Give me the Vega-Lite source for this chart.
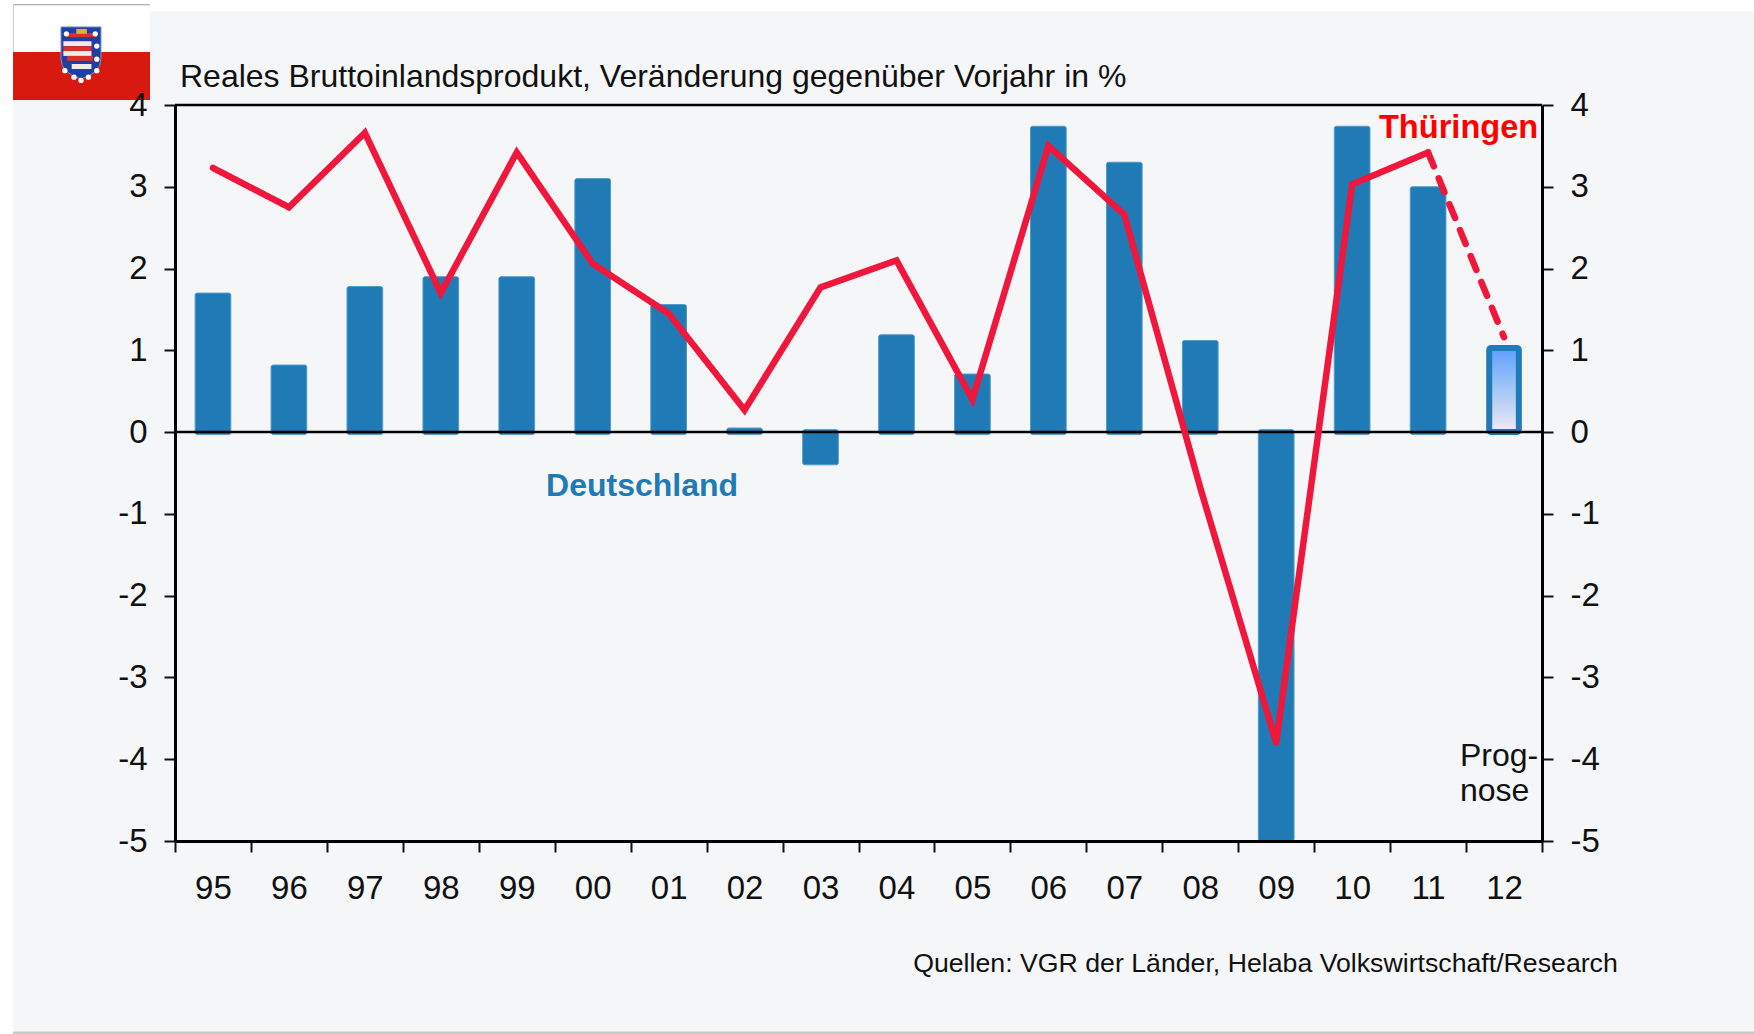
{"$schema":"https://vega.github.io/schema/vega-lite/v6.json","width":1367,"height":736,"autosize":"none","padding":{"left":175,"top":105,"right":212,"bottom":193},"background":"#ffffff",
"config":{"view":{"stroke":null},"font":"Liberation Sans"},
"datasets":{
"de":[{"jahr":"95","wert":1.7},{"jahr":"96","wert":0.82},{"jahr":"97","wert":1.78},{"jahr":"98","wert":1.9},{"jahr":"99","wert":1.9},{"jahr":"00","wert":3.1},{"jahr":"01","wert":1.56},{"jahr":"02","wert":0.05},{"jahr":"03","wert":-0.4},{"jahr":"04","wert":1.19},{"jahr":"05","wert":0.71},{"jahr":"06","wert":3.74},{"jahr":"07","wert":3.3},{"jahr":"08","wert":1.12},{"jahr":"09","wert":-5.0},{"jahr":"10","wert":3.74},{"jahr":"11","wert":3.0},{"jahr":"12","wert":1.03,"prognose":true}],
"th":[{"jahr":"95","wert":3.23,"abschnitt":"Ist"},{"jahr":"96","wert":2.75,"abschnitt":"Ist"},{"jahr":"97","wert":3.66,"abschnitt":"Ist"},{"jahr":"98","wert":1.7,"abschnitt":"Ist"},{"jahr":"99","wert":3.42,"abschnitt":"Ist"},{"jahr":"00","wert":2.06,"abschnitt":"Ist"},{"jahr":"01","wert":1.45,"abschnitt":"Ist"},{"jahr":"02","wert":0.27,"abschnitt":"Ist"},{"jahr":"03","wert":1.77,"abschnitt":"Ist"},{"jahr":"04","wert":2.1,"abschnitt":"Ist"},{"jahr":"05","wert":0.4,"abschnitt":"Ist"},{"jahr":"06","wert":3.5,"abschnitt":"Ist"},{"jahr":"07","wert":2.66,"abschnitt":"Ist"},{"jahr":"08","wert":-0.68,"abschnitt":"Ist"},{"jahr":"09","wert":-3.8,"abschnitt":"Ist"},{"jahr":"10","wert":3.03,"abschnitt":"Ist"},{"jahr":"11","wert":3.42,"abschnitt":"Ist"},{"jahr":"11","wert":3.42,"abschnitt":"Prognose"},{"jahr":"12","wert":1.16,"abschnitt":"Prognose"}]
},
"layer":[
{"data":{"values":[{"a":-2.133,"b":21,"c":5.15,"d":-7.33}]},"mark":{"type":"rect","fill":"#f5f6f8"},
 "encoding":{"x":{"field":"a","type":"quantitative","scale":{"domain":[0,18]},"axis":null},"x2":{"field":"b"},"y":{"field":"c","type":"quantitative","scale":{"domain":[-5,4],"nice":false,"zero":false},"axis":null},"y2":{"field":"d"}}},
{"data":{"values":[{"a":-2.133,"b":-0.329,"c":5.224,"d":4.649,"f":"#ffffff"},{"a":-2.133,"b":-0.329,"c":4.649,"d":4.062,"f":"#d8190f"},{"a":-2.133,"b":-0.329,"c":5.235,"d":5.22,"f":"#b0b0b0"},{"a":-2.133,"b":-2.12,"c":5.235,"d":4.649,"f":"#d0d0d0"},{"a":-2.133,"b":21,"c":-7.33,"d":-7.36,"f":"#c8c8c8"}]},"mark":{"type":"rect"},
 "encoding":{"x":{"field":"a","type":"quantitative","scale":{"domain":[0,18]},"axis":null},"x2":{"field":"b"},"y":{"field":"c","type":"quantitative","axis":null},"y2":{"field":"d"},"fill":{"field":"f","type":"nominal","scale":null}}},
{"data":{"values":[{"a":-1.238,"c":4.637}]},"mark":{"type":"point","shape":"M-1,-1.3 L1,-1.3 L1,0.3 Q1,1 0,1.3 Q-1,1 -1,0.3 Z","size":1600,"filled":true,"fill":"#1f3fa8","stroke":"#7f93c8","strokeWidth":1,"opacity":1},
 "encoding":{"x":{"field":"a","type":"quantitative","scale":{"domain":[0,18]},"axis":null},"y":{"field":"c","type":"quantitative","axis":null}}},
{"data":{"values":[{"a":-1.44,"b":-1.03,"c":4.88,"d":4.83,"f":"#d8302a"},{"a":-1.47,"b":-1.1,"c":4.78,"d":4.72,"f":"#f3e9e9"},{"a":-1.47,"b":-1.1,"c":4.72,"d":4.66,"f":"#d8302a"},{"a":-1.47,"b":-1.1,"c":4.66,"d":4.6,"f":"#f3e9e9"},{"a":-1.42,"b":-1.08,"c":4.6,"d":4.54,"f":"#d8302a"},{"a":-1.36,"b":-1.1,"c":4.5,"d":4.44,"f":"#f3e9e9"},{"a":-1.3,"b":-1.16,"c":4.93,"d":4.87,"f":"#e0b030"}]},"mark":{"type":"rect"},
 "encoding":{"x":{"field":"a","type":"quantitative","scale":{"domain":[0,18]},"axis":null},"x2":{"field":"b"},"y":{"field":"c","type":"quantitative","axis":null},"y2":{"field":"d"},"fill":{"field":"f","type":"nominal","scale":null}}},
{"data":{"values":[{"a":-1.43,"c":4.87},{"a":-1.05,"c":4.87},{"a":-1.03,"c":4.72},{"a":-1.03,"c":4.56},{"a":-1.45,"c":4.42},{"a":-1.03,"c":4.42},{"a":-1.33,"c":4.34},{"a":-1.14,"c":4.34},{"a":-1.238,"c":4.3}]},"mark":{"type":"point","shape":"circle","filled":true,"fill":"#ffffff","size":28,"opacity":1},
 "encoding":{"x":{"field":"a","type":"quantitative","scale":{"domain":[0,18]},"axis":null},"y":{"field":"c","type":"quantitative","axis":null}}},
{"data":{"name":"de"},"transform":[{"filter":"!datum.prognose && datum.wert>=0"}],"mark":{"type":"bar","width":{"band":0.47},"fill":"#1f7ab5","stroke":"#4f9cc9","strokeWidth":1,"cornerRadius":2},
 "encoding":{"x":{"field":"jahr","type":"ordinal","sort":null,"scale":{"type":"band","domain":["95","96","97","98","99","00","01","02","03","04","05","06","07","08","09","10","11","12"],"paddingInner":0,"paddingOuter":0},"axis":{"title":null,"orient":"bottom","labelAngle":0,"labelFont":"Liberation Sans","labelFontSize":33,"labelColor":"#111111","labelPadding":20,"tickBand":"extent","tickSize":11,"tickWidth":2,"tickColor":"#111111","domainColor":"#000000","domainWidth":3,"zindex":1}},
 "y":{"field":"wert","type":"quantitative","scale":{"domain":[-5,4],"nice":false,"zero":false},"axis":{"title":null,"orient":"left","values":[-5,-4,-3,-2,-1,0,1,2,3,4],"labelExpr":"''+datum.value","grid":false,"labelFont":"Liberation Sans","labelFontSize":33,"labelColor":"#111111","labelPadding":17,"tickSize":11,"tickWidth":2,"tickColor":"#111111","domainColor":"#000000","domainWidth":3,"zindex":1}},"y2":{"datum":-0.03}}},
{"data":{"name":"de"},"transform":[{"filter":"datum.wert<0"}],"mark":{"type":"bar","width":{"band":0.47},"fill":"#1f7ab5","stroke":"#4f9cc9","strokeWidth":1,"cornerRadius":2},
 "encoding":{"x":{"field":"jahr","type":"ordinal","sort":null,"scale":{"type":"band","domain":["95","96","97","98","99","00","01","02","03","04","05","06","07","08","09","10","11","12"],"paddingInner":0,"paddingOuter":0},"axis":null},
 "y":{"field":"wert","type":"quantitative","axis":null},"y2":{"datum":0.03}}},
{"data":{"name":"de"},"transform":[{"filter":"datum.prognose"}],"mark":{"type":"bar","width":{"band":0.39},"fill":{"gradient":"linear","x1":0,"y1":0,"x2":0,"y2":1,"stops":[{"offset":0,"color":"#5f9fff"},{"offset":0.5,"color":"#a3c8f5"},{"offset":1,"color":"#f2e9f5"}]},"stroke":"#1f7ab5","strokeWidth":6,"cornerRadius":2},
 "encoding":{"x":{"field":"jahr","type":"ordinal","sort":null,"scale":{"type":"band","domain":["95","96","97","98","99","00","01","02","03","04","05","06","07","08","09","10","11","12"],"paddingInner":0,"paddingOuter":0},"axis":null},
 "y":{"field":"wert","type":"quantitative","axis":null},"y2":{"datum":0}}},
{"data":{"values":[{"linie":0},{"linie":4}]},"mark":{"type":"rule","stroke":"#000000","strokeWidth":2.5},"encoding":{"y":{"field":"linie","type":"quantitative","axis":null}}},
{"data":{"name":"th"},"mark":{"type":"line","stroke":"#f0173c","strokeWidth":6.5,"strokeCap":"round","strokeJoin":"miter"},
 "encoding":{"x":{"field":"jahr","type":"ordinal","sort":null,"scale":{"type":"band","domain":["95","96","97","98","99","00","01","02","03","04","05","06","07","08","09","10","11","12"],"paddingInner":0,"paddingOuter":0},"axis":null},
 "y":{"field":"wert","type":"quantitative","axis":{"title":null,"orient":"right","values":[-5,-4,-3,-2,-1,0,1,2,3,4],"labelExpr":"''+datum.value","grid":false,"labelFont":"Liberation Sans","labelFontSize":33,"labelColor":"#111111","labelPadding":17,"tickSize":11,"tickWidth":2,"tickColor":"#111111","domainColor":"#000000","domainWidth":3,"zindex":1}},
 "detail":{"field":"abschnitt"},
 "strokeDash":{"field":"abschnitt","type":"nominal","legend":null,"scale":{"domain":["Ist","Prognose"],"range":[[1,0],[15,13]]}}}},
{"data":{"values":[{"t":"Deutschland","a":6.15,"c":-0.66}]},"mark":{"type":"text","align":"center","baseline":"middle","font":"Liberation Sans","fontWeight":"bold","fontSize":32,"fill":"#1f7ab5"},
 "encoding":{"x":{"field":"a","type":"quantitative","scale":{"domain":[0,18]},"axis":null},"y":{"field":"c","type":"quantitative","axis":null},"text":{"field":"t"}}},
{"data":{"values":[{"t":"Thüringen","a":17.95,"c":3.714}]},"mark":{"type":"text","align":"right","baseline":"middle","font":"Liberation Sans","fontWeight":"bold","fontSize":32.6,"fill":"#ff0000"},
 "encoding":{"x":{"field":"a","type":"quantitative","scale":{"domain":[0,18]},"axis":null},"y":{"field":"c","type":"quantitative","axis":null},"text":{"field":"t"}}},
{"data":{"values":[{"t":"Prog-","a":16.92,"c":-3.965},{"t":"nose","a":16.92,"c":-4.393}]},"mark":{"type":"text","align":"left","baseline":"middle","font":"Liberation Sans","fontSize":32,"fill":"#111111"},
 "encoding":{"x":{"field":"a","type":"quantitative","scale":{"domain":[0,18]},"axis":null},"y":{"field":"c","type":"quantitative","axis":null},"text":{"field":"t"}}},
{"data":{"values":[{"t":"Quellen: VGR der Länder, Helaba Volkswirtschaft/Research","a":9.72,"c":-6.5}]},"mark":{"type":"text","align":"left","baseline":"middle","font":"Liberation Sans","fontSize":26.7,"fill":"#111111"},
 "encoding":{"x":{"field":"a","type":"quantitative","scale":{"domain":[0,18]},"axis":null},"y":{"field":"c","type":"quantitative","axis":null},"text":{"field":"t"}}},
{"data":{"values":[{"t":"Reales Bruttoinlandsprodukt, Veränderung gegenüber Vorjahr in %","a":0.066,"c":4.343}]},"mark":{"type":"text","align":"left","baseline":"middle","font":"Liberation Sans","fontSize":32,"fill":"#111111"},
 "encoding":{"x":{"field":"a","type":"quantitative","scale":{"domain":[0,18]},"axis":null},"y":{"field":"c","type":"quantitative","axis":null},"text":{"field":"t"}}}
],
"resolve":{"scale":{"x":"independent"},"axis":{"y":"independent"}}}
